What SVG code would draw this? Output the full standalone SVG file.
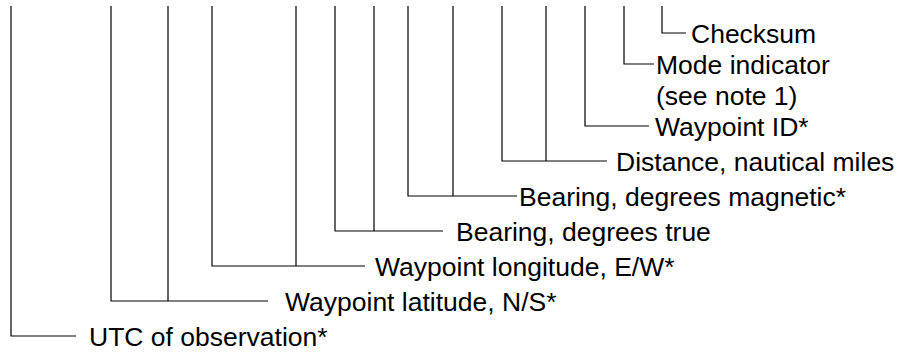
<svg xmlns="http://www.w3.org/2000/svg" width="901" height="353" viewBox="0 0 901 353">
<style>
.c{fill:none;stroke:#000;stroke-width:1.2}
text{font-family:"Liberation Sans",Arial,sans-serif;font-size:26.5px;fill:#000}
</style>
<rect width="901" height="353" fill="#fff"/>
<g id="connectors">
<path class="c" d="M11,6V336H76"/>
<path class="c" d="M111,6V301H268M168,6V301"/>
<path class="c" d="M212,6V266H365M296,6V266"/>
<path class="c" d="M335,6V231H443M374,6V231"/>
<path class="c" d="M408,6V196H517M453,6V196"/>
<path class="c" d="M502,6V161H607M546,6V161"/>
<path class="c" d="M585,6V126H649"/>
<path class="c" d="M624,6V64H654"/>
<path class="c" d="M662,6V33H686"/>
</g>
<g id="utc"><text x="89" y="345.5">UTC of observation*</text></g>
<g id="lat"><text x="285" y="310.5">Waypoint latitude, N/S*</text></g>
<g id="lon"><text x="375" y="275.5">Waypoint longitude, E/W*</text></g>
<g id="btrue"><text x="456" y="240.5">Bearing, degrees true</text></g>
<g id="bmag"><text x="519" y="205.5">Bearing, degrees magnetic*</text></g>
<g id="dist"><text x="616" y="170.5">Distance, nautical miles</text></g>
<g id="wpid"><text x="655" y="135.5">Waypoint ID*</text></g>
<g id="mode"><text x="656" y="73.5">Mode indicator</text><text x="656" y="104.5">(see note 1)</text></g>
<g id="checksum"><text x="691" y="42.5">Checksum</text></g>
</svg>
